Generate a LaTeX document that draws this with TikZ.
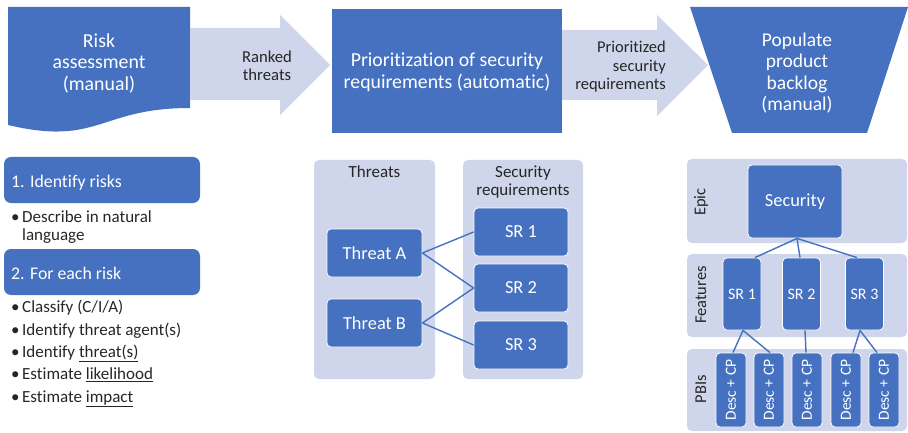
\documentclass[tikz,border=0pt]{standalone}
\usepackage{fontspec}
\setmainfont{Carlito}[Ligatures=NoCommon]
\usetikzlibrary{calc}
\definecolor{blueA}{HTML}{4571C0}
\definecolor{paleA}{HTML}{CFD5EA}
\definecolor{inkA}{HTML}{262626}
\newcommand{\fsz}[2]{\fontsize{#1}{#2}\selectfont}
\begin{document}
\begin{tikzpicture}[x=1pt,y=-1pt,
  bluebox/.style={fill=blueA, draw=white, line width=0.8pt, rounded corners=4pt,
    text=white, inner sep=0pt, align=center},
  band/.style={fill=paleA, draw=none, rounded corners=5pt, inner sep=0pt},
  link/.style={draw=blueA, line width=1.4pt},
  pale/.style={fill=paleA, draw=none},
  dark/.style={fill=blueA, draw=none},
  whitetxt/.style={text=white, align=center, inner sep=0pt},
  inktxt/.style={text=inkA, align=center, inner sep=0pt},
  bullet/.style={text=inkA, anchor=base west, inner sep=0pt, font=\fsz{17}{18}},
]
\useasboundingbox (0,0) rectangle (908,433);

% ---------- process row ----------
% risk assessment (document shape)
\path[dark] (8,7) -- (190,7) -- (190,108)
  .. controls (99,108) and (99,146.5) .. (8,125) -- cycle;
\node[whitetxt, font=\fsz{19.8}{21.5}] (risk) at (99,63) {Risk\\assessment\\(manual)};

% arrow: ranked threats
\path[pale] (190,28) -- (280,28) -- (280,15) -- (330,65) -- (280,115) -- (280,100) -- (190,100) -- cycle;
\node[inktxt, font=\fsz{16.7}{17.7}] (ranked) at (267,66) {Ranked\\threats};

% prioritization box
\path[dark] (332,9) rectangle (562,133);
\node[whitetxt, font=\fsz{19.8}{22}] (prio) at (447,72) {Prioritization of security\\requirements (automatic)};

% arrow: prioritized security requirements
\path[pale] (562,30) -- (657,30) -- (657,15) -- (708,65) -- (657,116) -- (657,100) -- (562,100) -- cycle;
\node[inktxt, align=right, anchor=east, font=\fsz{16.5}{18.5}] (prioreq) at (666,67) {Prioritized\\security\\requirements};

% populate backlog (funnel)
\path[dark] (690,7) -- (908,7) -- (867,133) -- (732,133) -- cycle;
\node[whitetxt, font=\fsz{19.5}{21.5}] (backlog) at (797,73) {Populate\\product\\backlog\\(manual)};

% ---------- risk assessment steps ----------
\node[fill=blueA, rounded corners=7pt, minimum width=196pt, minimum height=46pt,
  inner sep=0pt] (step1) at (102,180) {};
\node[text=white, anchor=base west, inner sep=0pt, font=\fsz{17.8}{20}] (step1t) at (11,187) {1. Identify risks};
\node[bullet] (b1) at (11,222.5) {•};
\node[bullet] (b1t) at (22,222.5) {Describe in natural};
\node[bullet] (b1u) at (22,240.5) {language};

\node[fill=blueA, rounded corners=7pt, minimum width=196pt, minimum height=46pt,
  inner sep=0pt] (step2) at (102,272) {};
\node[text=white, anchor=base west, inner sep=0pt, font=\fsz{17.8}{20}] (step2t) at (11,279) {2. For each risk};
\foreach \y/\t [count=\i] in {312.5/{Classify (C/I/A)},
    335/{Identify threat agent(s)},
    357.3/{Identify \underline{threat(s)}},
    379.7/{Estimate \underline{likelihood}},
    402/{Estimate \underline{impact}}}{
  \node[bullet] (d\i) at (11,\y) {•};
  \node[bullet] (e\i) at (22,\y) {\t};
}

% ---------- threats to security requirements ----------
\node[band, minimum width=121pt, minimum height=219pt] (colT) at (374.5,269.5) {};
\node[band, minimum width=120pt, minimum height=219pt] (colS) at (523,269.5) {};
\node[inktxt, anchor=base, font=\fsz{17}{17}] (colTt) at (374.5,178) {Threats};
\node[inktxt, anchor=base, font=\fsz{17}{17}] (colSt) at (523,178) {Security};
\node[inktxt, anchor=base, font=\fsz{17}{17}] (colSu) at (523,195) {requirements};

\begin{scope}[every node/.style={bluebox, font=\fsz{18.4}{20}, minimum height=48pt}]
  \node[minimum width=95pt] (ta) at (374.5,253) {Threat A};
  \node[minimum width=95pt] (tb) at (374.5,323) {Threat B};
  \node[minimum width=94pt] (s1) at (521,232) {SR 1};
  \node[minimum width=94pt] (s2) at (521,288) {SR 2};
  \node[minimum width=94pt] (s3) at (521,345) {SR 3};
\end{scope}
\draw[link] (ta.east) -- (s1.west);
\draw[link] (ta.east) -- (s2.west);
\draw[link] (tb.east) -- (s2.west);
\draw[link] (tb.east) -- (s3.west);

% ---------- product backlog hierarchy ----------
\node[band, minimum width=220pt, minimum height=84pt] (bEpic) at (797,201) {};
\node[band, minimum width=220pt, minimum height=83pt] (bFeat) at (797,295.5) {};
\node[band, minimum width=220pt, minimum height=82pt] (bPbi) at (797,390) {};
\node[inktxt, rotate=90, font=\fsz{16.5}{17}] (lEpic) at (701,202) {Epic};
\node[inktxt, rotate=90, font=\fsz{16.5}{17}] (lFeat) at (701,295) {Features};
\node[inktxt, rotate=90, font=\fsz{16.5}{17}] (lPbi) at (701,389) {PBIs};

\node[bluebox, font=\fsz{18.4}{20}, minimum width=94pt, minimum height=73pt] (sec) at (795,201.5) {Security};
\begin{scope}[every node/.style={bluebox, font=\fsz{16}{17}, minimum width=38pt, minimum height=72pt}]
  \node (f1) at (742,294) {SR 1};
  \node (f2) at (801.5,294) {SR 2};
  \node (f3) at (864.5,294) {SR 3};
\end{scope}
\begin{scope}[every node/.style={bluebox, font=\fsz{15.5}{16}, minimum width=30pt, minimum height=74pt}]
  \foreach \x [count=\i] in {731,769,807,846,884}
    \node (p\i) at (\x,390) {\rotatebox{90}{Desc + CP}};
\end{scope}

\draw[link] ($(sec.south)+(2,0)$) -- ($(f1.north)+(13,0)$);
\draw[link] ($(sec.south)+(2,0)$) -- ($(f2.north)+(-1.5,0)$);
\draw[link] ($(sec.south)+(2,0)$) -- ($(f3.north)+(-7.5,0)$);
\draw[link] ($(f1.south)+(1,0)$) -- ($(p1.north)+(2,0)$);
\draw[link] ($(f1.south)+(1,0)$) -- ($(p2.north)+(1,0)$);
\draw[link] ($(f2.south)+(3.5,0)$) -- ($(p3.north)+(-1,0)$);
\draw[link] ($(f3.south)+(-4.5,0)$) -- ($(p4.north)+(7,0)$);
\draw[link] ($(f3.south)+(-4.5,0)$) -- ($(p5.north)+(-7,0)$);
\end{tikzpicture}
\end{document}
